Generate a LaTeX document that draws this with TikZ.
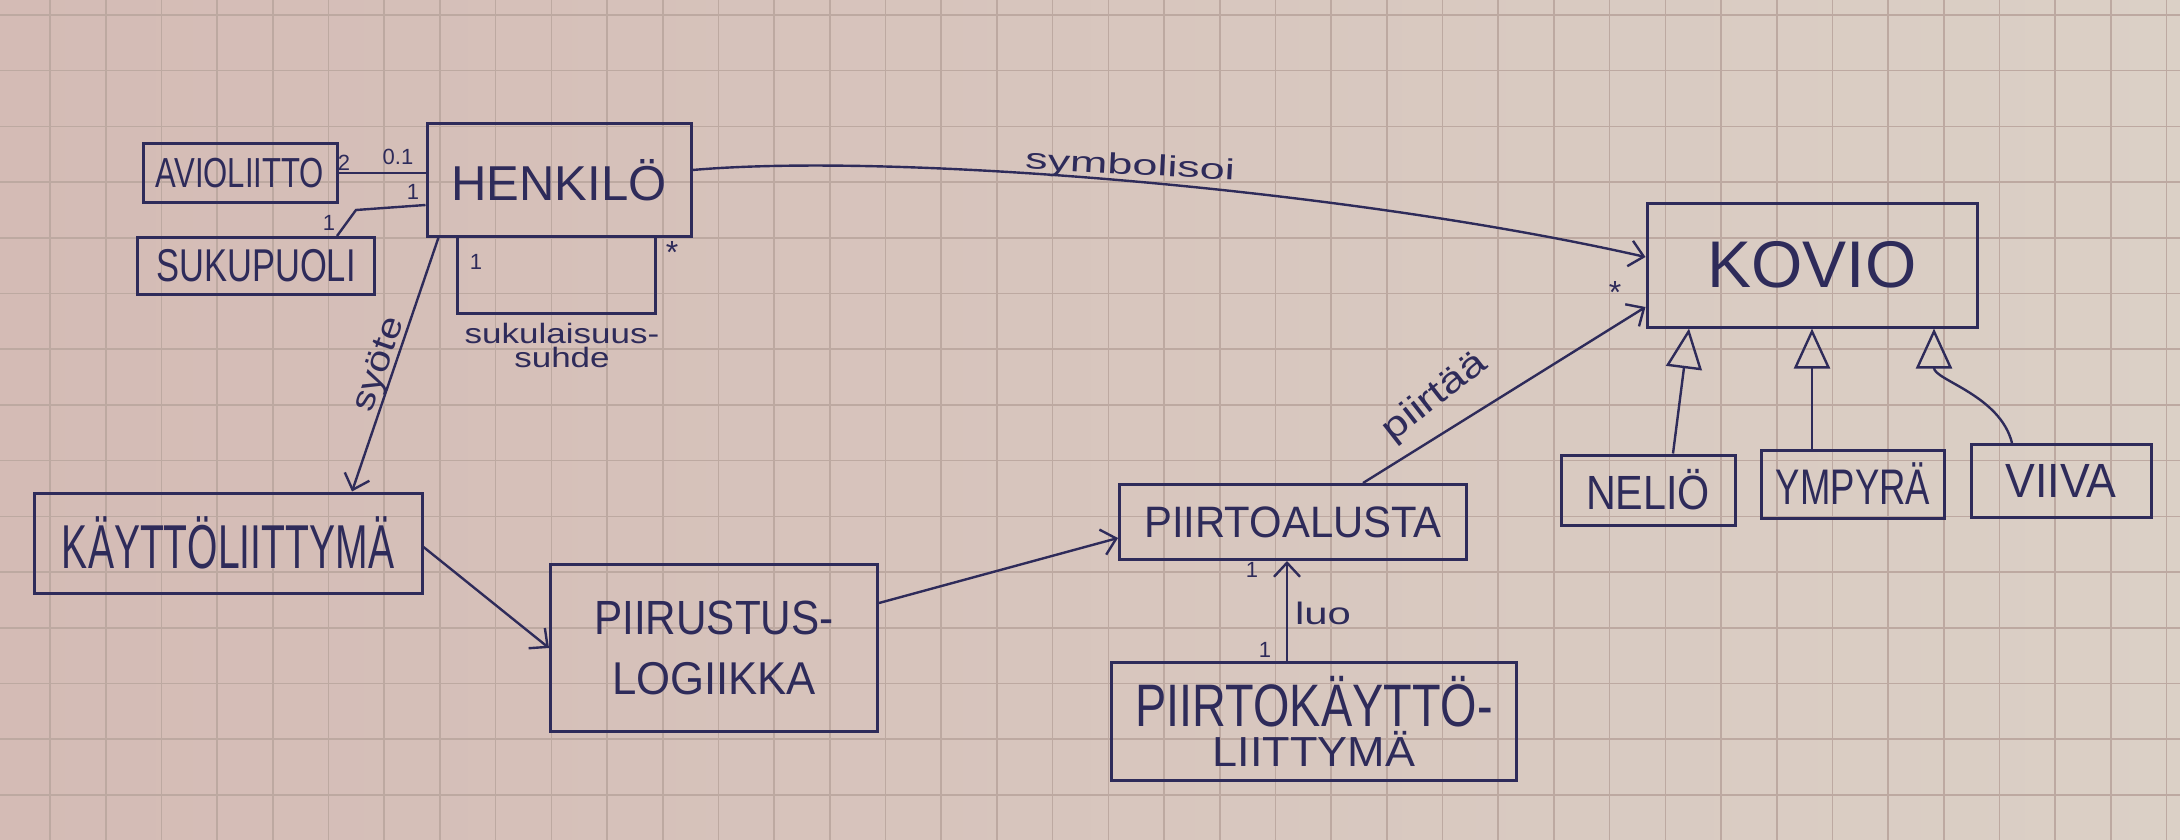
\documentclass[tikz,border=0pt]{standalone}
\usepackage{fontspec}
\setmainfont{Liberation Sans}
\usepackage{graphicx}
\usetikzlibrary{arrows.meta,calc}
\definecolor{ink}{HTML}{2E2B5A}
\definecolor{paperL}{HTML}{D4BBB5}
\definecolor{paperR}{HTML}{DBD0C6}
\definecolor{gridc}{HTML}{BDA9A1}
\newcommand\hw[3]{\scalebox{#1}[1]{\fontsize{#2}{#2}\selectfont #3}}
\begin{document}
\begin{tikzpicture}[x=1pt,y=-1pt,
  box/.style={draw=ink, line width=3pt, rectangle, inner sep=0pt, text=ink, align=center},
  conn/.style={draw=ink, line width=2.4pt},
  dep/.style={conn, -{Straight Barb[length=14pt,width=26pt,line width=2.4pt]}},
  gen/.style={conn, -{Triangle[open,length=40pt,width=36pt,line width=2.4pt]}},
  lbl/.style={text=ink, inner sep=0pt},
  mult/.style={lbl, font=\fontsize{22}{22}\selectfont},
]
% paper
\shade[left color=paperL, right color=paperR] (0,0) rectangle (2180,840);
\useasboundingbox (0,0) rectangle (2180,840);
\foreach \i in {0,...,38} \draw[gridc, line width=1.6pt] ({50+\i*55.7},0) -- ({50+\i*55.7},840);
\foreach \j in {0,...,14} \draw[gridc, line width=1.6pt] (0,{15+\j*55.7}) -- (2180,{15+\j*55.7});

% classes
\node[box, minimum width=194pt, minimum height=58pt] (avio) at (240,173) {\hw{0.74}{42}{AVIOLIITTO}};
\node[box, minimum width=264pt, minimum height=112pt] (henk) at (559,180) {\hw{1.0}{49}{HENKILÖ}};
\node[box, minimum width=237pt, minimum height=57pt] (suku) at (256,266) {\hw{0.75}{46}{SUKUPUOLI}};
\node[box, minimum width=388pt, minimum height=100pt] (kali) at (228,543) {\hw{0.63}{62}{KÄYTTÖLIITTYMÄ}};
\node[box, minimum width=327pt, minimum height=167pt, font=\fontsize{46}{60}\selectfont] (logic) at (714,648) {\hw{0.88}{48}{PIIRUSTUS-}\\\hw{0.95}{46}{LOGIIKKA}};
\node[box, minimum width=347pt, minimum height=75pt] (alusta) at (1293,522) {\hw{0.95}{44}{PIIRTOALUSTA}};
\node[box, minimum width=405pt, minimum height=118pt, font=\fontsize{42}{40}\selectfont] (pkl) at (1314,721) {\hw{0.78}{60}{PIIRTOKÄYTTÖ-}\\\hw{1.07}{42}{LIITTYMÄ}};
\node[box, minimum width=330pt, minimum height=124pt] (kovio) at (1812,265) {\hw{1.0}{66}{KOVIO}};
\node[box, minimum width=174pt, minimum height=70pt] (nelio) at (1648,490) {\hw{0.86}{48}{NELIÖ}};
\node[box, minimum width=183pt, minimum height=68pt] (ympyra) at (1853,484) {\hw{0.73}{50}{YMPYRÄ}};
\node[box, minimum width=180pt, minimum height=73pt] (viiva) at (2061,481) {\hw{0.93}{48}{VIIVA}};

% connectors
\draw[conn] (avio.east) -- (avio.east -| henk.west);
\coordinate (sbend) at (356,210);
\draw[conn] ([yshift=-25pt]henk.west) -- (sbend) -- ([xshift=81pt]suku.north);
\draw[conn] ([xshift=32pt]henk.south west) -- ++(0,76) -| ([xshift=-37pt]henk.south east);
\draw[dep] ([xshift=13pt]henk.south west) -- ([xshift=124pt]kali.north);
\draw[dep] ([yshift=-4pt]kali.east) -- (logic.west);
\draw[dep] ([yshift=45pt]logic.east) -- ([yshift=-16pt]alusta.west);
\draw[dep] ([xshift=-27pt]pkl.north) -- ([xshift=-27pt]pkl.north |- alusta.south);
\draw[dep] ([xshift=70pt]alusta.north) -- ([yshift=-42pt]kovio.west);
\draw[dep] ([yshift=10pt]henk.east) .. controls (900,152) and (1350,190) .. ([yshift=8pt]kovio.west);
\draw[gen] ([xshift=25pt]nelio.north) -- ([xshift=-123pt]kovio.south);
\draw[gen] ([xshift=-41pt]ympyra.north) -- (kovio.south);
\draw[gen] ([xshift=-49pt]viiva.north) .. controls (2000,395) and (1934,380) .. ([xshift=122pt]kovio.south);

% multiplicities
\node[mult] (m1) at (344,163) {2};
\node[mult] (m2) at (398,157) {0.1};
\node[mult] (m3) at (413,192) {1};
\node[mult] (m4) at (329,223) {1};
\node[mult] (m5) at (476,262) {1};
\node[mult, font=\fontsize{32}{32}\selectfont] (m6) at (672,252) {*};
\node[mult, font=\fontsize{32}{32}\selectfont] (m7) at (1615,292) {*};
\node[mult] (m8) at (1252,570) {1};
\node[mult] (m9) at (1265,650) {1};

% labels
\node[lbl, rotate=71] (syote) at (380,365) {\hw{1.2}{34}{syöte}};
\node[lbl, align=center, font=\fontsize{28}{24}\selectfont] (sukl) at (562,345) {\hw{1.25}{28}{sukulaisuus-}\\\hw{1.25}{28}{suhde}};
\node[lbl, rotate=-3] (symb) at (1130,167) {\hw{1.55}{29}{symbolisoi}};
\node[lbl] (luo) at (1323,613) {\hw{1.35}{31}{luo}};
\node[lbl, rotate=38] (piirtaa) at (1435,397) {\hw{1.25}{36}{piirtää}};
\end{tikzpicture}
\end{document}
